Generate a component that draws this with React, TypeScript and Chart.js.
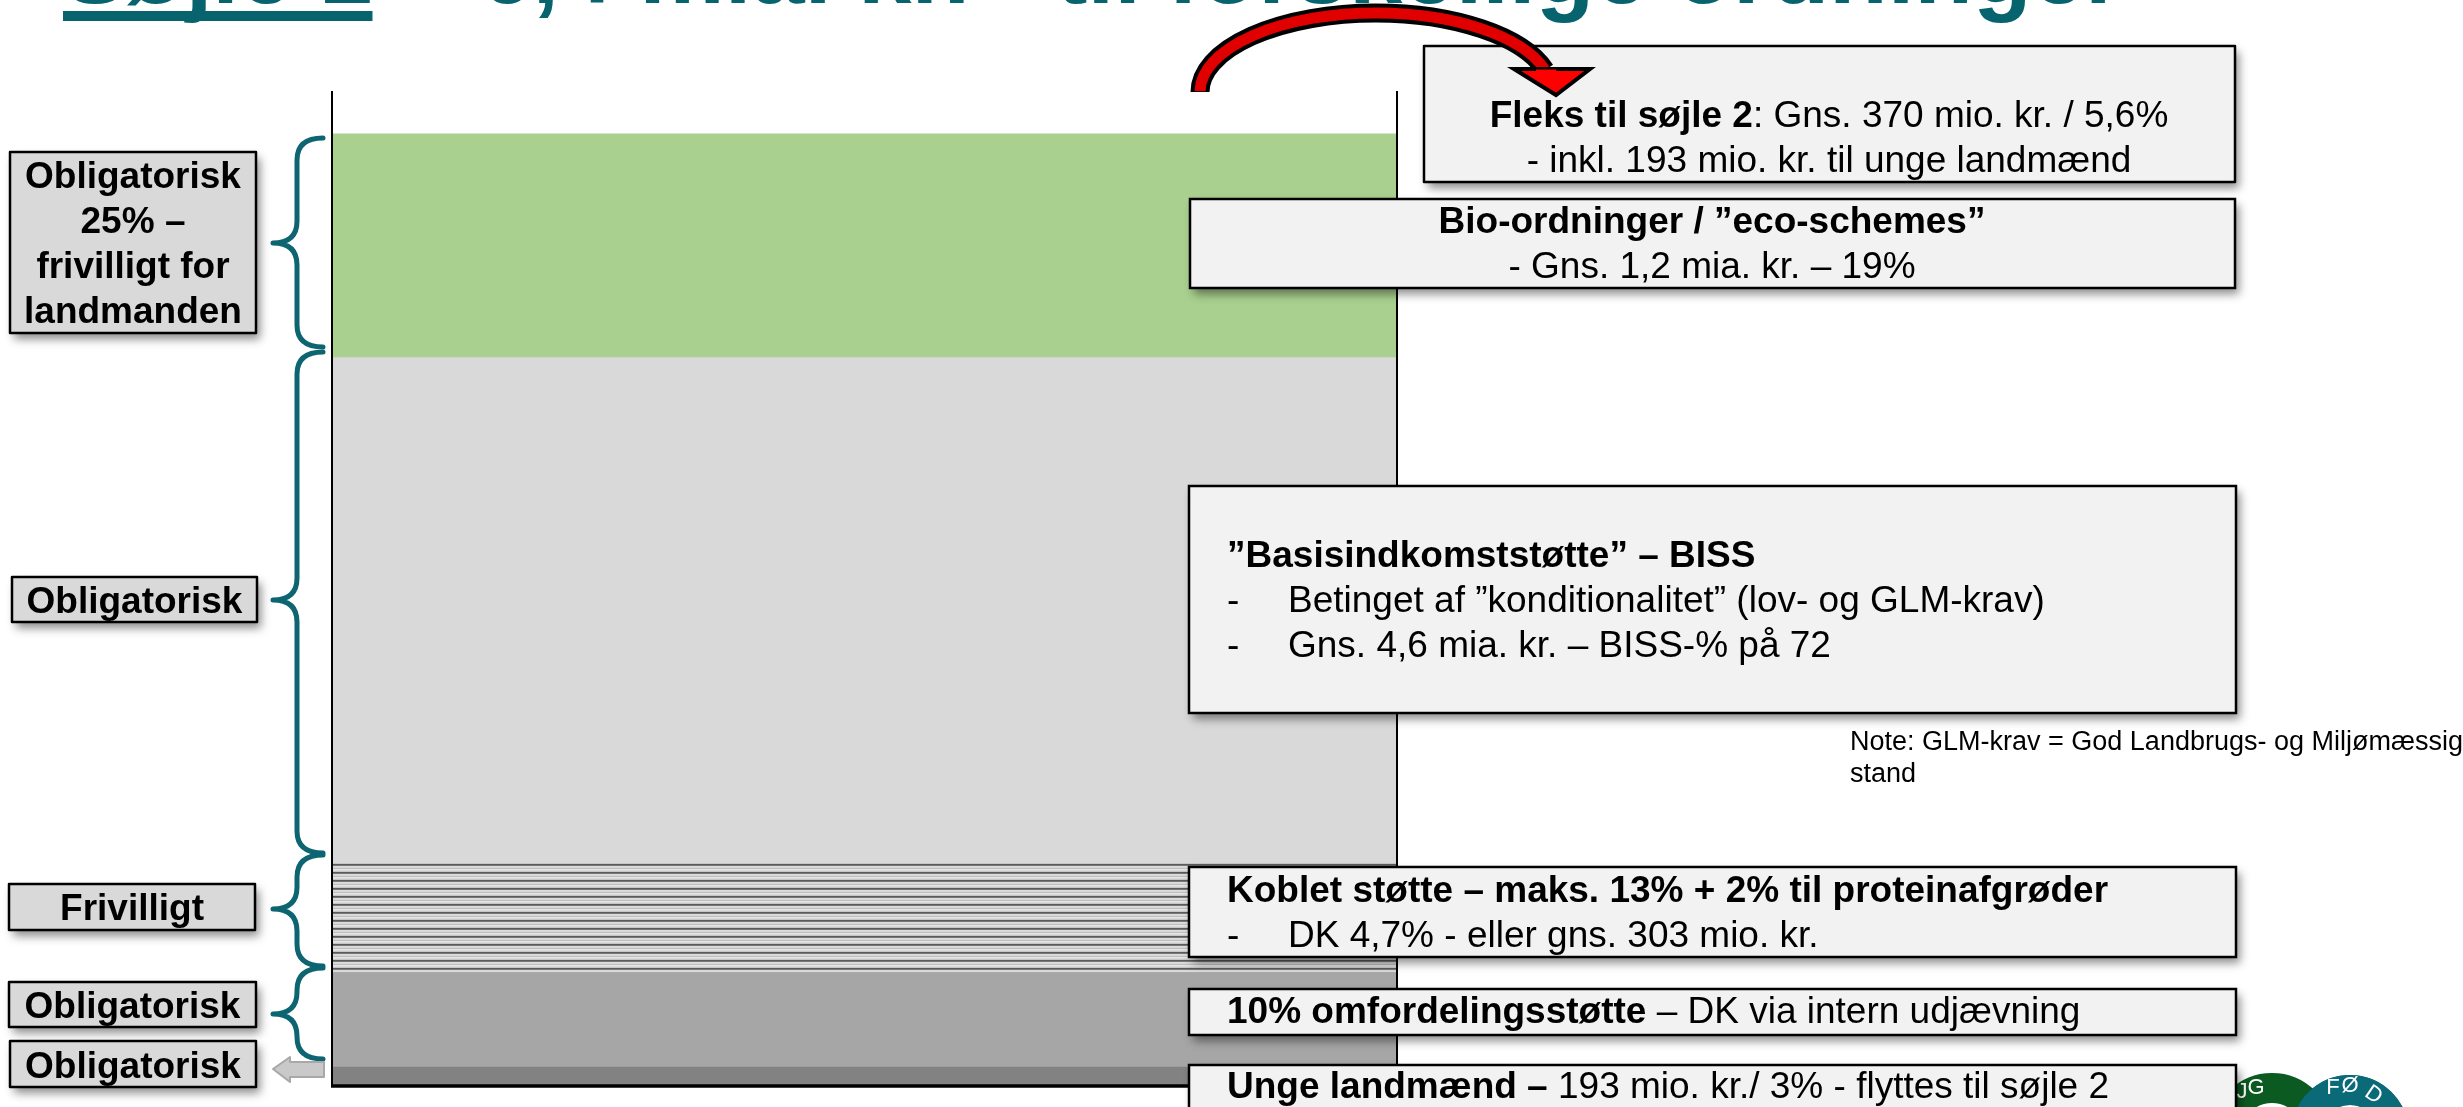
import React, { useEffect, useRef } from 'react';
import { Chart, registerables } from 'chart.js';

Chart.register(...registerables);

const W = 2463;
const H = 1107;
const FONT = '"Liberation Sans", Arial, Helvetica, sans-serif';

// ---- data ----
const categories = ['Søjle 1'];
const segmentLabels = ['Unge landmænd', '10% omfordelingsstøtte', 'Koblet støtte', 'Basisindkomststøtte – BISS', 'Bio-ordninger / eco-schemes'];
const segmentValues = [2.0, 9.9, 11.5, 53.1, 23.5];
const segmentColors = ['#828282', '#a6a6a6', 'PATTERN', '#d9d9d9', '#a9d08e'];
const yMax = 104.5;

const titleText = 'Søjle 1 – 6,4 mia. kr. - til forskellige ordninger';
const titleUnderlined = 'Søjle 1';

const leftLabels = [
  ['Obligatorisk', '25% –', 'frivilligt for', 'landmanden'],
  ['Obligatorisk'],
  ['Frivilligt'],
  ['Obligatorisk'],
  ['Obligatorisk'],
];

const noteLines = ['Note: GLM-krav = God Landbrugs- og Miljømæssig', 'stand'];

type Part = [string, boolean];

const RS = 37; // right box font size

function makePattern(): CanvasPattern | string {
  const c = document.createElement('canvas');
  c.width = 8;
  c.height = 8;
  const g = c.getContext('2d');
  if (!g) return '#bfbfbf';
  const rows = ['#5a5a5a', '#7a7a7a', '#d9d9d9', '#d9d9d9', '#bdbdbd', '#e6e6e6', '#d9d9d9', '#c6c6c6'];
  rows.forEach((col, i) => {
    g.fillStyle = col;
    g.fillRect(0, i, 8, 1);
  });
  return g.createPattern(c, 'repeat') || '#bfbfbf';
}

function rich(ctx: CanvasRenderingContext2D, parts: Part[], x: number, y: number, size: number, align: 'left' | 'center') {
  const widths: number[] = [];
  let total = 0;
  parts.forEach(([t, b]) => {
    ctx.font = `${b ? 'bold ' : ''}${size}px ${FONT}`;
    const w = ctx.measureText(t).width;
    widths.push(w);
    total += w;
  });
  let cx = align === 'center' ? x - total / 2 : x;
  ctx.textAlign = 'left';
  ctx.textBaseline = 'alphabetic';
  ctx.fillStyle = '#000';
  parts.forEach(([t, b], i) => {
    ctx.font = `${b ? 'bold ' : ''}${size}px ${FONT}`;
    ctx.fillText(t, cx, y);
    cx += widths[i];
  });
}

function box(ctx: CanvasRenderingContext2D, x1: number, y1: number, x2: number, y2: number, fill: string) {
  ctx.save();
  ctx.shadowColor = 'rgba(0,0,0,0.45)';
  ctx.shadowBlur = 9;
  ctx.shadowOffsetX = 4;
  ctx.shadowOffsetY = 6;
  ctx.fillStyle = fill;
  ctx.fillRect(x1, y1, x2 - x1, y2 - y1);
  ctx.restore();
  ctx.strokeStyle = '#000';
  ctx.lineWidth = 2.5;
  ctx.strokeRect(x1, y1, x2 - x1, y2 - y1);
}

function brace(ctx: CanvasRenderingContext2D, top: number, bottom: number, tip: number) {
  const xr = 323, xs = 297, xt = 273, r = 22;
  ctx.beginPath();
  ctx.moveTo(xr, top);
  ctx.quadraticCurveTo(xs, top, xs, top + r);
  ctx.lineTo(xs, tip - r);
  ctx.quadraticCurveTo(xs, tip, xt, tip);
  ctx.quadraticCurveTo(xs, tip, xs, tip + r);
  ctx.lineTo(xs, bottom - r);
  ctx.quadraticCurveTo(xs, bottom, xr, bottom);
  ctx.stroke();
}

const overlayPlugin = {
  id: 'overlay',
  afterDraw(chart: any) {
    const ctx: CanvasRenderingContext2D = chart.ctx;
    const a = chart.chartArea;
    ctx.save();

    // title (mostly outside the page)
    ctx.fillStyle = '#07646f';
    ctx.font = `bold 96px ${FONT}`;
    ctx.textAlign = 'left';
    ctx.textBaseline = 'alphabetic';
    ctx.fillText(titleText, 63, 3);
    const uw = ctx.measureText(titleUnderlined).width;
    ctx.fillRect(63, 11, uw, 10);

    // axis frame lines
    ctx.strokeStyle = '#000';
    ctx.lineWidth = 2;
    ctx.beginPath();
    ctx.moveTo(a.left, a.top);
    ctx.lineTo(a.left, a.bottom);
    ctx.moveTo(a.right, a.top);
    ctx.lineTo(a.right, a.bottom);
    ctx.stroke();
    ctx.lineWidth = 3.5;
    ctx.beginPath();
    ctx.moveTo(a.left - 1, a.bottom);
    ctx.lineTo(a.right + 1, a.bottom);
    ctx.stroke();

    // braces
    ctx.strokeStyle = '#0c6570';
    ctx.lineWidth = 5;
    ctx.lineCap = 'round';
    ctx.lineJoin = 'round';
    brace(ctx, 138, 347, 243);
    brace(ctx, 352, 853, 600);
    brace(ctx, 855, 966, 909);
    brace(ctx, 968, 1059, 1014);

    // grey arrow
    ctx.beginPath();
    ctx.moveTo(273, 1069);
    ctx.lineTo(290, 1057);
    ctx.lineTo(290, 1062);
    ctx.lineTo(324, 1062);
    ctx.lineTo(324, 1077);
    ctx.lineTo(290, 1077);
    ctx.lineTo(290, 1082);
    ctx.closePath();
    ctx.fillStyle = '#c9c9c9';
    ctx.fill();
    ctx.strokeStyle = '#a8a8a8';
    ctx.lineWidth = 2;
    ctx.stroke();

    // left label boxes
    const lb: [number, number, number, number, number[]][] = [
      [10, 152, 256, 333, [188, 233, 278, 323]],
      [12, 577, 257, 622, [613]],
      [9, 884, 255, 930, [920]],
      [9, 982, 256, 1027, [1018]],
      [10, 1041, 256, 1087, [1078]],
    ];
    lb.forEach(([x1, y1, x2, y2, bases], i) => {
      box(ctx, x1, y1, x2, y2, '#d9d9d9');
      leftLabels[i].forEach((t, j) => rich(ctx, [[t, true]], (x1 + x2) / 2, bases[j], 37, 'center'));
    });

    // right boxes
    box(ctx, 1424, 46, 2235, 182, '#f2f2f2');
    rich(ctx, [['Fleks til søjle 2', true], [': Gns. 370 mio. kr. / 5,6%', false]], 1829, 127, RS, 'center');
    rich(ctx, [['- inkl. 193 mio. kr. til unge landmænd', false]], 1829, 172, RS, 'center');

    // red curved arrow (on top of the Fleks box)
    const ex = 1376, ey = 92, rx = 176, ry = 79;
    const endA = Math.PI * 2 - Math.asin(22 / 79);
    ctx.lineCap = 'butt';
    ctx.beginPath();
    ctx.ellipse(ex, ey, rx, ry, 0, Math.PI, endA);
    ctx.strokeStyle = '#000';
    ctx.lineWidth = 19;
    ctx.stroke();
    ctx.beginPath();
    ctx.ellipse(ex, ey, rx, ry, 0, Math.PI + 0.012, endA - 0.01);
    ctx.strokeStyle = '#e00000';
    ctx.lineWidth = 11;
    ctx.stroke();
    ctx.beginPath();
    ctx.moveTo(1514, 69);
    ctx.lineTo(1590, 69);
    ctx.lineTo(1556, 95);
    ctx.closePath();
    ctx.fillStyle = '#ff0000';
    ctx.fill();
    ctx.strokeStyle = '#000';
    ctx.lineWidth = 4;
    ctx.lineJoin = 'miter';
    ctx.stroke();
    ctx.beginPath();
    ctx.moveTo(1536, 71);
    ctx.lineTo(1556, 71);
    ctx.strokeStyle = '#ff0000';
    ctx.lineWidth = 3;
    ctx.stroke();

    box(ctx, 1190, 199, 2235, 288, '#f2f2f2');
    rich(ctx, [['Bio-ordninger / ”eco-schemes”', true]], 1712, 233, RS, 'center');
    rich(ctx, [['- Gns. 1,2 mia. kr. – 19%', false]], 1712, 278, RS, 'center');

    box(ctx, 1189, 486, 2236, 713, '#f2f2f2');
    rich(ctx, [['”Basisindkomststøtte” – BISS', true]], 1227, 567, RS, 'left');
    rich(ctx, [['-', false]], 1227, 612, RS, 'left');
    rich(ctx, [['Betinget af ”konditionalitet” (lov- og GLM-krav)', false]], 1288, 612, RS, 'left');
    rich(ctx, [['-', false]], 1227, 657, RS, 'left');
    rich(ctx, [['Gns. 4,6 mia. kr. – BISS-% på 72', false]], 1288, 657, RS, 'left');

    rich(ctx, [[noteLines[0], false]], 1850, 750, 27, 'left');
    rich(ctx, [[noteLines[1], false]], 1850, 782, 27, 'left');

    box(ctx, 1189, 867, 2236, 957, '#f2f2f2');
    rich(ctx, [['Koblet støtte – maks. 13% + 2% til proteinafgrøder', true]], 1227, 902, RS, 'left');
    rich(ctx, [['-', false]], 1227, 947, RS, 'left');
    rich(ctx, [['DK 4,7% - eller gns. 303 mio. kr.', false]], 1288, 947, RS, 'left');

    box(ctx, 1189, 989, 2236, 1035, '#f2f2f2');
    rich(ctx, [['10% omfordelingsstøtte', true], [' – DK via intern udjævning', false]], 1227, 1023, RS, 'left');

    // logo (partly hidden)
    ctx.save();
    ctx.lineWidth = 30;
    ctx.beginPath();
    ctx.arc(2272, 1134, 46, 0, Math.PI * 2);
    ctx.strokeStyle = '#0b5a22';
    ctx.stroke();
    ctx.globalCompositeOperation = 'multiply';
    ctx.beginPath();
    ctx.arc(2350, 1134, 44, 0, Math.PI * 2);
    ctx.strokeStyle = '#0b6a78';
    ctx.stroke();
    ctx.restore();
    ctx.save();
    ctx.beginPath();
    ctx.arc(2350, 1134, 44, Math.PI * 1.05, Math.PI * 1.95);
    ctx.strokeStyle = '#0b6a78';
    ctx.lineWidth = 30;
    ctx.stroke();
    ctx.restore();
    ctx.fillStyle = '#ffffff';
    ctx.font = `22px ${FONT}`;
    ctx.textAlign = 'center';
    ctx.fillText('J', 2242, 1098);
    ctx.fillText('G', 2256, 1094);
    ctx.fillText('F', 2333, 1094);
    ctx.fillText('Ø', 2350, 1092);
    ctx.save();
    ctx.translate(2370, 1100);
    ctx.rotate(0.6);
    ctx.fillText('D', 0, 0);
    ctx.restore();

    box(ctx, 1189, 1065, 2236, 1125, '#f2f2f2');
    rich(ctx, [['Unge landmænd –', true], [' 193 mio. kr./ 3% - flyttes til søjle 2', false]], 1227, 1098, RS, 'left');

    ctx.restore();
  },
};

export default function App() {
  const ref = useRef<HTMLCanvasElement | null>(null);
  useEffect(() => {
    if (!ref.current) return;
    const pattern = makePattern();
    const datasets = segmentLabels.map((label, i) => ({
      label,
      data: [segmentValues[i]],
      backgroundColor: segmentColors[i] === 'PATTERN' ? pattern : segmentColors[i],
      borderWidth: 0,
      barPercentage: 1,
      categoryPercentage: 1,
      stack: 's',
    }));
    const chart = new Chart(ref.current, {
      type: 'bar',
      data: { labels: categories, datasets: datasets as any },
      options: {
        responsive: false,
        animation: false,
        devicePixelRatio: 1,
        layout: { padding: { left: 332, right: W - 1397, top: 91, bottom: H - 1086 } },
        scales: {
          x: { stacked: true, display: false },
          y: { stacked: true, display: false, min: 0, max: yMax },
        },
        plugins: { legend: { display: false }, tooltip: { enabled: false } },
      },
      plugins: [overlayPlugin],
    });
    return () => chart.destroy();
  }, []);
  return (
    <div style={{ position: 'fixed', left: 0, top: 0, width: W, height: H, background: '#fff', overflow: 'hidden' }}>
      <canvas ref={ref} width={W} height={H} style={{ width: W, height: H, display: 'block' }} />
    </div>
  );
}
